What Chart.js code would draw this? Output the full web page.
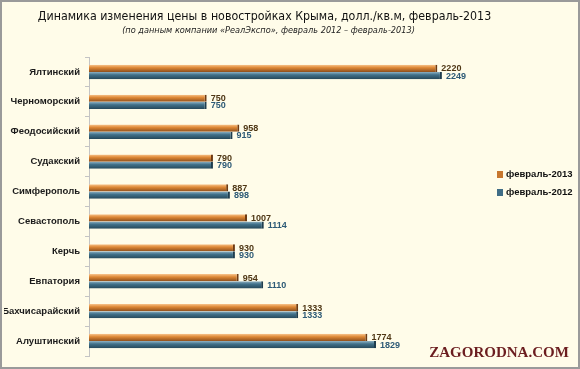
<!DOCTYPE html>
<html><head><meta charset="utf-8">
<script src="https://cdn.jsdelivr.net/npm/chart.js@4/dist/chart.umd.min.js"></script>
<style>html,body{margin:0;padding:0;background:#fffce9;}#wrap{width:580px;height:369px;position:relative;}</style>
</head><body><div id="wrap"><canvas id="c" width="580" height="369"></canvas></div>
<script>
const categories = ['Ялтинский','Черноморский','Феодосийский','Судакский','Симферополь','Севастополь','Керчь','Евпатория','Бахчисарайский','Алуштинский'];
const seriesNames = ['февраль-2013','февраль-2012'];
const feb2013 = [2220,750,958,790,887,1007,930,954,1333,1774];
const feb2012 = [2249,750,915,790,898,1114,930,1110,1333,1829];
const titleText = 'Динамика изменения цены в новостройках Крыма, долл./кв.м, февраль-2013';
const subtitleText = '(по данным компании «РеалЭкспо», февраль 2012 – февраль-2013)';
const watermarkText = 'ZAGORODNA.COM';

const orangeStops = ['#f8c48c','#de8836','#8e4f1c'];
const blueStops = ['#8fb2c4','#41718a','#26485a'];
const CAT_PCT = 0.48;

function barGradient(ctx, stops, dsIndex){
  const chart = ctx.chart;
  const ys = chart.scales && chart.scales.y;
  if(!ys || !ys.height) return stops[1];
  const c = ys.getPixelForValue(ctx.dataIndex);
  const t = (ys.height / categories.length) * CAT_PCT / 2;
  const top = dsIndex === 0 ? c - t : c;
  const g = chart.ctx.createLinearGradient(0, top, 0, top + t);
  g.addColorStop(0, stops[0]);
  g.addColorStop(0.4, stops[1]);
  g.addColorStop(1, stops[2]);
  return g;
}

const decor = {
  id:'decor',
  beforeDraw(chart){
    const ctx = chart.ctx;
    ctx.save();
    ctx.fillStyle = '#fffce9';
    ctx.fillRect(0,0,chart.width,chart.height);
    ctx.restore();
  },
  afterDatasetsDraw(chart){
    const ctx = chart.ctx;
    ctx.save();
    ctx.font = 'bold 9px "Liberation Sans", Arial, sans-serif';
    ctx.textBaseline = 'middle';
    ctx.textAlign = 'left';
    const colors = ['#4e3614','#2d5a76'];
    chart.data.datasets.forEach((ds, di) => {
      const meta = chart.getDatasetMeta(di);
      meta.data.forEach((el, i) => {
        ctx.fillStyle = colors[di];
        ctx.fillText(String(ds.data[i]), el.x + 4, el.y + 0.5);
      });
    });
    ctx.restore();
  },
  afterDraw(chart){
    const ctx = chart.ctx;
    ctx.save();
    ctx.fillStyle = '#111';
    ctx.textAlign = 'center';
    ctx.textBaseline = 'middle';
    ctx.font = '12.3px "DejaVu Sans Condensed", "DejaVu Sans", sans-serif';
    ctx.fillText(titleText, 264.5, 17);
    ctx.font = 'italic 9.1px "DejaVu Sans Condensed", "DejaVu Sans", sans-serif';
    ctx.fillStyle = '#222';
    ctx.fillText(subtitleText, 268.5, 31);
    ctx.textAlign = 'left';
    ctx.font = 'bold 9.5px "Liberation Sans", Arial, sans-serif';
    const lg = [['#c7772f', 174.5], ['#3f6d86', 192.5]];
    chart.data.datasets.forEach((ds, di) => {
      ctx.fillStyle = lg[di][0];
      ctx.fillRect(497, lg[di][1] - 3.5, 6, 7);
      ctx.fillStyle = '#111';
      ctx.fillText(ds.label, 506, lg[di][1]);
    });
    ctx.textAlign = 'center';
    ctx.font = 'bold 15px "Liberation Serif", "DejaVu Serif", serif';
    ctx.fillStyle = '#6b1d1f';
    ctx.fillText(watermarkText, 499, 353);
    ctx.strokeStyle = '#9a9a9a';
    ctx.lineWidth = 2;
    ctx.strokeRect(1, 1, chart.width - 2, chart.height - 2);
    ctx.restore();
  }
};

new Chart(document.getElementById('c'), {
  type: 'bar',
  data: {
    labels: categories,
    datasets: [
      { label: seriesNames[0], data: feb2013,
        backgroundColor: (c) => barGradient(c, orangeStops, 0),
        borderColor: '#6e3a12', borderWidth: {top:0,bottom:0,left:0,right:2}, borderSkipped: false },
      { label: seriesNames[1], data: feb2012,
        backgroundColor: (c) => barGradient(c, blueStops, 1),
        borderColor: '#1f3d4e', borderWidth: {top:0,bottom:0,left:0,right:2}, borderSkipped: false }
    ]
  },
  options: {
    indexAxis: 'y',
    responsive: false,
    animation: false,
    layout: { padding: { left: 4, right: 83, top: 57, bottom: 13 } },
    datasets: { bar: { categoryPercentage: CAT_PCT, barPercentage: 1 } },
    plugins: { legend: { display: false }, title: { display: false }, tooltip: { enabled: false } },
    scales: {
      x: { display: false, min: 0, max: 2600 },
      y: {
        afterFit: (s) => { s.width = 85; },
        grid: { display: true, drawOnChartArea: false, drawTicks: true, tickLength: 4, color: '#c4c4c4', offset: true },
        border: { display: true, color: '#c4c4c4', width: 1 },
        ticks: { padding: 5, color: '#1a1a1a', font: { family: '"Liberation Sans", Arial, sans-serif', size: 9.5, weight: 'bold' } }
      }
    }
  },
  plugins: [decor]
});
</script>
</body></html>
